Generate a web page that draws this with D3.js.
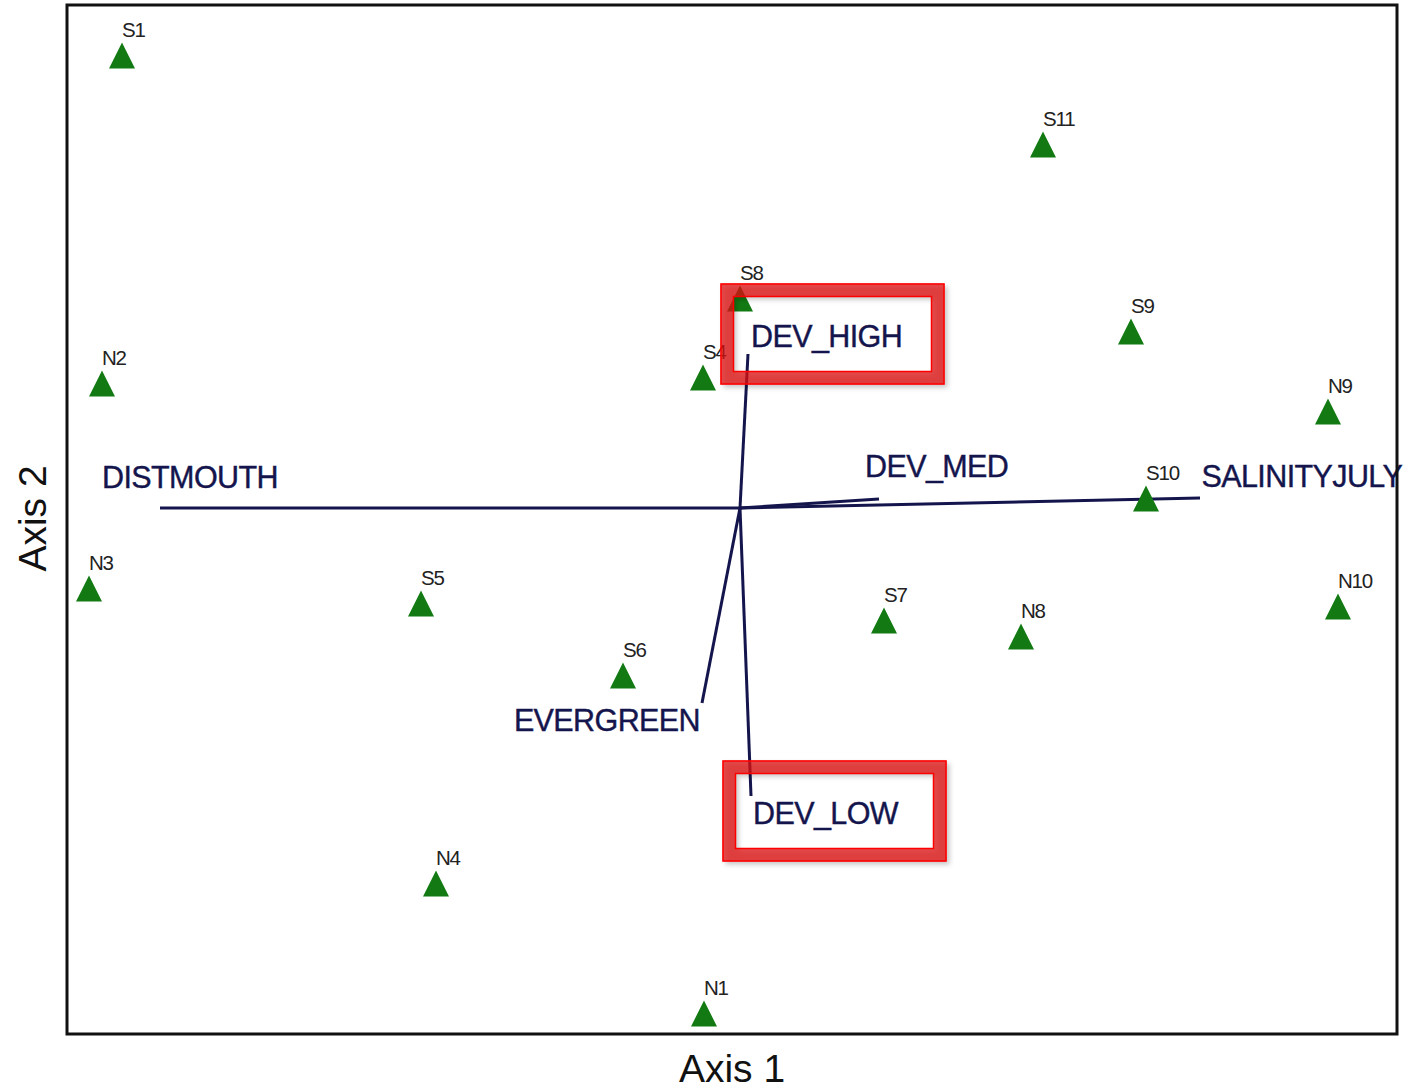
<!DOCTYPE html>
<html>
<head>
<meta charset="utf-8">
<script src="https://cdn.jsdelivr.net/npm/d3@7"></script>
<style>
  body { margin: 0; background: #fff; }
  svg { display: block; font-family: "Liberation Sans", Arial, sans-serif; }
</style>
</head>
<body>
<div id="chart"></div>
<script>
// site scores (Axis 1, Axis 2)
const sites = ["S1", "S11", "S8", "S9", "S4", "N2", "N9", "S10", "N3", "S5", "N10", "S7", "N8", "S6", "N4", "N1"];
const siteAxis1 = [-1.236, 0.606, 0.000, 0.782, -0.074, -1.276, 1.176, 0.812, -1.302, -0.638, 1.196, 0.288, 0.562, -0.234, -0.608, -0.072];
const siteAxis2 = [0.904, 0.726, 0.418, 0.352, 0.260, 0.248, 0.192, 0.018, -0.162, -0.192, -0.198, -0.226, -0.258, -0.336, -0.752, -1.012];

// environmental vectors (joint plot)
const vectors = ["DISTMOUTH", "SALINITYJULY", "DEV_MED", "DEV_HIGH", "DEV_LOW", "EVERGREEN"];
const vecAxis1 = [-1.160, 0.920, 0.278, 0.016, 0.022, -0.076];
const vecAxis2 = [0.000, 0.020, 0.018, 0.308, -0.576, -0.390];

const highlighted = ["DEV_HIGH", "DEV_LOW"];
const axisTitles = ["Axis 1", "Axis 2"];

const width = 1408;
const height = 1090;
const plot = { left: 67, right: 1397, top: 5, bottom: 1034 };

const x = d3.scaleLinear().domain([-1.346, 1.314]).range([plot.left, plot.right]);
const y = d3.scaleLinear().domain([-1.052, 1.006]).range([plot.bottom, plot.top]);

const svg = d3.select("#chart")
    .append("svg")
    .attr("width", width)
    .attr("height", height);

const defs = svg.append("defs");
defs.append("filter")
    .attr("id", "shadow")
    .attr("x", "-10%").attr("y", "-10%")
    .attr("width", "130%").attr("height", "140%")
    .append("feDropShadow")
    .attr("dx", 3).attr("dy", 3)
    .attr("stdDeviation", 2.5)
    .attr("flood-color", "#000")
    .attr("flood-opacity", 0.3);

const siteData = sites.map((s, i) => ({ name: s, a1: siteAxis1[i], a2: siteAxis2[i] }));
const vecData = vectors.map((v, i) => ({ name: v, a1: vecAxis1[i], a2: vecAxis2[i] }));

const navy = "#15154d";

// vectors from the centroid
svg.selectAll("line.vec")
    .data(vecData)
    .enter()
    .append("line")
    .attr("class", "vec")
    .attr("x1", x(0))
    .attr("y1", y(0))
    .attr("x2", d => x(d.a1))
    .attr("y2", d => y(d.a2))
    .attr("stroke", navy)
    .attr("stroke-width", 3);

// label placement relative to the vector tip (px)
const labelOffset = {
    DISTMOUTH: [-58, -20, "start"],
    SALINITYJULY: [1.5, -11, "start"],
    DEV_MED: [-14, -22, "start"],
    DEV_HIGH: [3, -7, "start"],
    DEV_LOW: [2, 28, "start"],
    EVERGREEN: [-2, 28, "end"]
};

// site triangles
const tri = "M0,-13L13,13L-13,13Z";
svg.selectAll("path.site")
    .data(siteData)
    .enter()
    .append("path")
    .attr("class", "site")
    .attr("d", tri)
    .attr("transform", d => `translate(${x(d.a1)},${y(d.a2) - 0.5})`)
    .attr("fill", "#137a13");

svg.selectAll("text.site")
    .data(siteData)
    .enter()
    .append("text")
    .attr("class", "site")
    .attr("x", d => x(d.a1))
    .attr("y", d => y(d.a2) - 19)
    .attr("font-size", "20.5px")
    .attr("letter-spacing", "-1.2px")
    .attr("fill", "#222")
    .text(d => d.name);

svg.selectAll("text.vec")
    .data(vecData)
    .enter()
    .append("text")
    .attr("class", "vec")
    .attr("x", d => x(d.a1) + labelOffset[d.name][0])
    .attr("y", d => y(d.a2) + labelOffset[d.name][1])
    .attr("text-anchor", d => labelOffset[d.name][2])
    .attr("font-size", "30.5px")
    .attr("letter-spacing", "-0.6px")
    .attr("fill", navy)
    .attr("stroke", navy)
    .attr("stroke-width", 0.4)
    .text(d => d.name);

// frame
svg.append("rect")
    .attr("x", plot.left)
    .attr("y", plot.top)
    .attr("width", plot.right - plot.left)
    .attr("height", plot.bottom - plot.top)
    .attr("fill", "none")
    .attr("stroke", "#111")
    .attr("stroke-width", 3);

// axis titles
svg.append("text")
    .attr("x", (plot.left + plot.right) / 2)
    .attr("y", 1082)
    .attr("text-anchor", "middle")
    .attr("font-size", "39px")
    .attr("fill", "#111")
    .text(axisTitles[0]);

svg.append("text")
    .attr("transform", `translate(46,${(plot.top + plot.bottom) / 2 - 1}) rotate(-90)`)
    .attr("text-anchor", "middle")
    .attr("font-size", "39px")
    .attr("fill", "#111")
    .text(axisTitles[1]);

// red highlight boxes around selected vector labels
const boxes = svg.selectAll("g.box")
    .data(vecData.filter(d => highlighted.includes(d.name)))
    .enter()
    .append("g")
    .attr("class", "box")
    .attr("transform", d => `translate(${x(d.a1) + labelOffset[d.name][0]},${y(d.a2) + labelOffset[d.name][1]})`);

boxes.append("rect")
    .attr("x", -24).attr("y", -57)
    .attr("width", 211).attr("height", 88)
    .attr("fill", "none")
    .attr("stroke", "#dc1414")
    .attr("stroke-opacity", 0.75)
    .attr("stroke-width", 13)
    .attr("filter", "url(#shadow)");

boxes.append("rect")
    .attr("x", -30).attr("y", -63)
    .attr("width", 223).attr("height", 100)
    .attr("fill", "none")
    .attr("stroke", "#ff0000")
    .attr("stroke-width", 1.5);

boxes.append("rect")
    .attr("x", -17.5).attr("y", -50.5)
    .attr("width", 198).attr("height", 75)
    .attr("fill", "none")
    .attr("stroke", "#ff0000")
    .attr("stroke-width", 1.5);
</script>
</body>
</html>
